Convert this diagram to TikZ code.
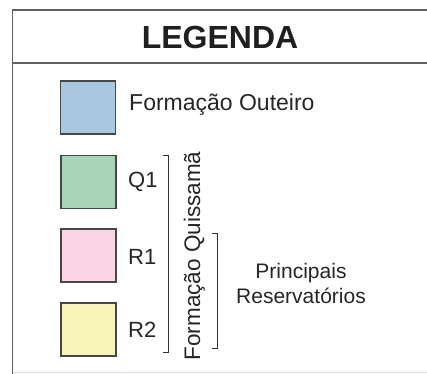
\documentclass[tikz,border=0pt]{standalone}
\usepackage{fontspec}
\setmainfont{Liberation Sans}
\begin{document}
\begin{tikzpicture}[x=1pt,y=-1pt,
  frame/.style={draw=black!62,line width=1.4pt},
  swatch/.style={draw=black!72,line width=1.1pt,minimum width=55pt,minimum height=53pt,inner sep=0pt},
  lbl/.style={anchor=west,inner sep=0pt,font=\fontsize{22}{24}\selectfont,text=black!85},
  brk/.style={draw=black!80,line width=0.9pt}]
\useasboundingbox (0,0) rectangle (427,373);
% frame
\draw[frame] (440,10) -- (12.5,10) -- (12.5,380);
\draw[frame] (12.5,63) -- (440,63);
\draw[black!12,line width=0.8pt] (12.5,372.5) -- (440,372.5);
\node[font=\bfseries\fontsize{32}{36}\selectfont,text=black!88] (title) at (220,37) {LEGENDA};
% swatches
\node[swatch,fill={rgb,255:red,168;green,200;blue,226}] (b) at (88,107.5) {};
\node[swatch,fill={rgb,255:red,168;green,212;blue,184}] (g) at (88.5,182) {};
\node[swatch,fill={rgb,255:red,250;green,214;blue,228}] (p) at (88.5,255.5) {};
\node[swatch,fill={rgb,255:red,248;green,244;blue,184}] (y) at (88.5,329.5) {};
\node[lbl,font=\fontsize{23}{24}\selectfont] (tb) at (129,105) {Formação Outeiro};
\node[lbl] (tq) at (128,182) {Q1};
\node[lbl] (tr1) at (128,257) {R1};
\node[lbl] (tr2) at (128,330) {R2};
% brackets
\coordinate (a1) at (163,155);
\coordinate (a2) at (168,155);
\coordinate (a3) at (168,352);
\coordinate (a4) at (163,352);
\draw[brk] (a1) -- (a2) -- (a3) -- (a4);
\coordinate (c1) at (212,233);
\coordinate (c2) at (217,233);
\coordinate (c3) at (217,348);
\coordinate (c4) at (212,348);
\draw[brk] (c1) -- (c2) -- (c3) -- (c4);
\node[rotate=90,anchor=base,inner sep=0pt,font=\fontsize{22.5}{24}\selectfont,text=black!85] (fq) at (200,256) {Formação Quissamã};
\node[align=center,inner sep=0pt,font=\fontsize{21}{25}\selectfont,text=black!85] (pr) at (301,283) {Principais\\Reservatórios};
\end{tikzpicture}
\end{document}
